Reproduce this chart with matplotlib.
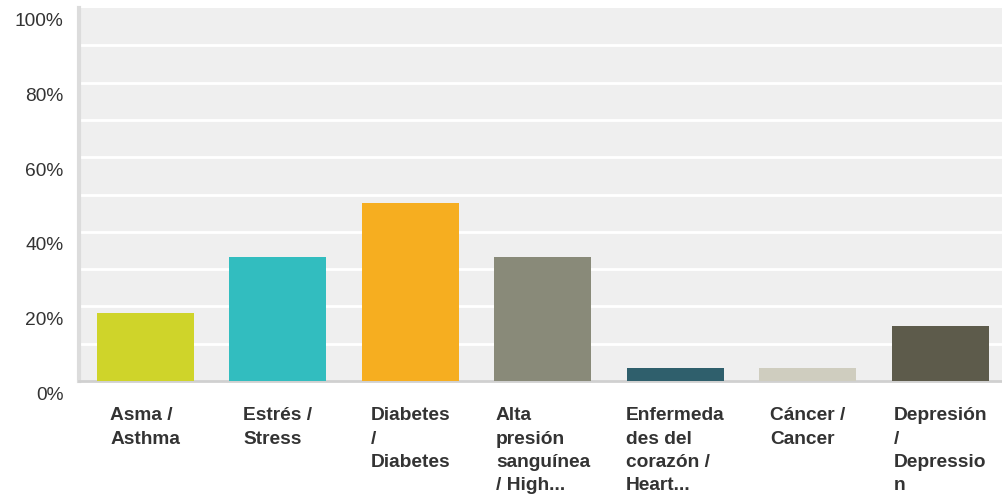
import matplotlib.pyplot as plt
import matplotlib.transforms as mtransforms

plt.rcParams['font.family'] = ['Liberation Sans', 'DejaVu Sans']

# answer categories (as wrapped on the original chart)
categories = [
    "Asma /\nAsthma",
    "Estrés /\nStress",
    "Diabetes\n/\nDiabetes",
    "Alta\npresión\nsanguínea\n/ High...",
    "Enfermeda\ndes del\ncorazón /\nHeart...",
    "Cáncer /\nCancer",
    "Depresión\n/\nDepressio\nn",
]
percent = [18.2, 33.2, 47.7, 33.2, 3.4, 3.4, 14.7]
colors = ['#cfd42a', '#32bdbf', '#f6ae20', '#898a79', '#2f5f6c', '#cfcdbf', '#5d5b4b']
yticks = [0, 20, 40, 60, 80, 100]
ytick_labels = ['0%', '20%', '40%', '60%', '80%', '100%']

fig = plt.figure(figsize=(10.02, 5.04), dpi=100)
ax = fig.add_axes([79 / 1002, (504 - 381) / 504, 1 - 79 / 1002, 373 / 504])
ax.set_facecolor('#efefef')

x = list(range(len(categories)))
ax.bar(x, percent, width=0.732, color=colors, zorder=3)

ax.set_xlim(-0.5, 6.464)
ax.set_ylim(0, 100)

# white gridlines every 10%
for g in range(10, 100, 10):
    ax.axhline(g, color='white', linewidth=2, zorder=1)

for side in ['top', 'right']:
    ax.spines[side].set_visible(False)
ax.spines['left'].set_color('#dcdcdc')
ax.spines['left'].set_linewidth(3)
ax.spines['bottom'].set_color('#d0d0d0')
ax.spines['bottom'].set_linewidth(2)

ax.set_xticks([])
ax.set_yticks(yticks)
ax.set_yticklabels(ytick_labels, fontsize=13.8, color='#333333')
ax.tick_params(axis='y', length=0, pad=11)
offset = mtransforms.ScaledTranslation(0, -12 / 100, fig.dpi_scale_trans)
for lbl in ax.get_yticklabels():
    lbl.set_transform(lbl.get_transform() + offset)

# category labels: block centred under each bar, lines left aligned
for i, name in enumerate(categories):
    ax.text(i, -26 / 373, name, transform=ax.get_xaxis_transform(),
            ha='center', va='top', multialignment='left',
            fontsize=13.8, fontweight='bold', color='#333333', linespacing=1.5)

fig.savefig('out.png', dpi=100)
